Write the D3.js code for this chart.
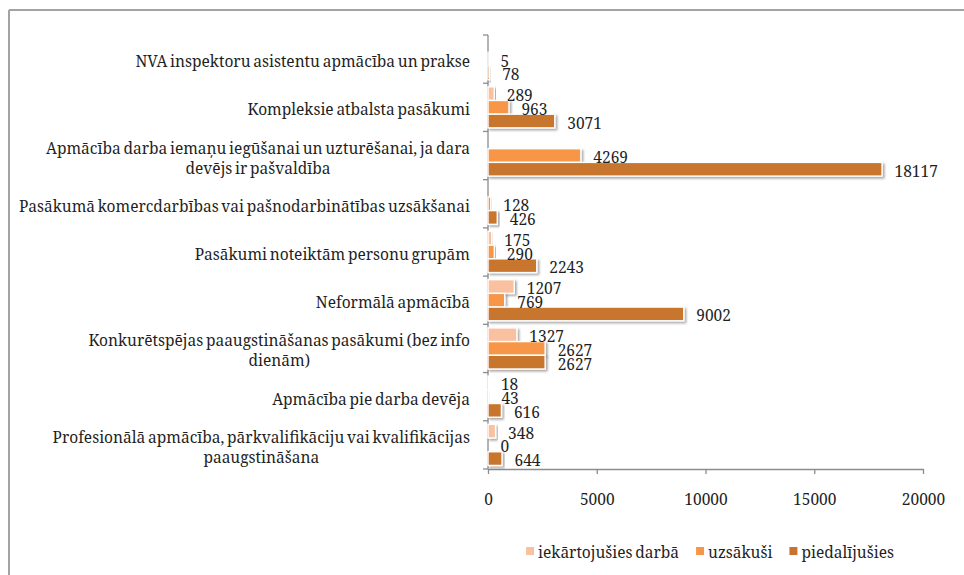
<!DOCTYPE html>
<html><head><meta charset="utf-8">
<script src="https://cdn.jsdelivr.net/npm/d3@7"></script>
<style>
html,body{margin:0;padding:0;background:#fff;}
svg{display:block;}
</style></head>
<body>
<svg id="chart" width="964" height="575"></svg>
<script>
const categories = [
  "NVA inspektoru asistentu apmācība un prakse",
  "Kompleksie atbalsta pasākumi",
  "Apmācība darba iemaņu iegūšanai un uzturēšanai, ja dara\ndevējs ir pašvaldība",
  "Pasākumā komercdarbības vai pašnodarbinātības uzsākšanai",
  "Pasākumi noteiktām personu grupām",
  "Neformālā apmācībā",
  "Konkurētspējas paaugstināšanas pasākumi (bez info\ndienām)",
  "Apmācība pie darba devēja",
  "Profesionālā apmācība, pārkvalifikāciju vai kvalifikācijas\npaaugstināšana"
];
const seriesNames = ["iekārtojušies darbā", "uzsākuši", "piedalījušies"];
const iekartojusies = [null, 289, null, null, 175, 1207, 1327, 18, 348];
const uzsakusi      = [5, 963, 4269, 128, 290, 769, 2627, 43, 0];
const piedalijusies = [78, 3071, 18117, 426, 2243, 9002, 2627, 616, 644];
const xTicks = [0, 5000, 10000, 15000, 20000];
const colors = ["#FAC1A0", "#F79646", "#C8742F"];

const FF = "'Noto Serif', serif", FS = 15.5, WS = -1.3, TC = "#1f1f1f";
const seriesValues = [iekartojusies, uzsakusi, piedalijusies];
const svg = d3.select("#chart");

// border (cropped frame)
svg.append("line").attr("x1",9).attr("y1",10).attr("x2",964).attr("y2",10)
  .attr("stroke","#a3a3a3").attr("stroke-width",2);
svg.append("line").attr("x1",9).attr("y1",10).attr("x2",9).attr("y2",575)
  .attr("stroke","#a3a3a3").attr("stroke-width",2);

const defs = svg.append("defs");
const f = defs.append("filter").attr("id","sh").attr("x","-10%").attr("y","-30%").attr("width","130%").attr("height","180%");
f.append("feDropShadow").attr("dx",1.8).attr("dy",1.8).attr("stdDeviation",1)
  .attr("flood-color","#000").attr("flood-opacity",0.35);

const x = d3.scaleLinear().domain([0, 20000]).range([488, 923]);
const y = d3.scaleBand().domain(d3.range(categories.length)).range([35, 469]).paddingInner(0).paddingOuter(0);
const inner = d3.scaleBand().domain(d3.range(3)).range([0, y.bandwidth()]).paddingOuter(0.26).paddingInner(0);

const axisColor = "#8c8c8c";
svg.append("line").attr("x1",488).attr("x2",488).attr("y1",35).attr("y2",469)
  .attr("stroke",axisColor).attr("stroke-width",1.3);
const bounds = d3.range(categories.length+1).map(i => i===categories.length ? 469 : y(i));
svg.selectAll(".ytick").data(bounds).join("line")
  .attr("x1",483).attr("x2",488).attr("y1",d=>d).attr("y2",d=>d)
  .attr("stroke",axisColor).attr("stroke-width",1.3);

// x axis
const xAxis = d3.axisBottom(x).tickValues(xTicks).tickSize(5).tickSizeOuter(0).tickFormat(d3.format("d"));
const gx = svg.append("g").attr("transform","translate(0,469)").call(xAxis);
gx.attr("font-family", FF);
gx.select(".domain").attr("stroke",axisColor).attr("stroke-width",1.3);
gx.selectAll(".tick line").attr("stroke",axisColor).attr("stroke-width",1.3);
gx.selectAll(".tick text").attr("font-family",FF).attr("font-size",FS)
  .attr("fill",TC).attr("y",30).attr("dy","0").attr("dominant-baseline","central");

// bars
seriesValues.forEach((vals, s) => {
  const g = svg.append("g");
  const data = vals.map((v,i)=>({v,i})).filter(d=>d.v!==null);
  g.selectAll("rect").data(data).join("rect")
    .attr("x", x(0))
    .attr("y", d => y(d.i) + inner(s))
    .attr("width", d => Math.max(0, x(d.v)-x(0)))
    .attr("height", inner.bandwidth())
    .attr("fill", colors[s])
    .attr("stroke","#fff").attr("stroke-width",1.4)
    .attr("filter","url(#sh)");
});
// value labels
seriesValues.forEach((vals, s) => {
  const data = vals.map((v,i)=>({v,i})).filter(d=>d.v!==null);
  svg.append("g").selectAll("text").data(data).join("text")
    .attr("x", d => x(d.v) + 12.5)
    .attr("y", d => y(d.i) + inner(s) + inner.bandwidth()/2 + 1.5)
    .attr("dominant-baseline","central")
    .attr("font-family",FF).attr("font-size",FS).attr("fill",TC)
    .text(d => d.v);
});

// category labels
const labelRight = 470;
categories.forEach((c, i) => {
  const lines = c.split("\n");
  const g = svg.append("g");
  const cy = y(i) + y.bandwidth()/2 + 2;
  const lh = 20;
  const texts = lines.map((ln, k) => g.append("text")
    .attr("y", cy + (k - (lines.length-1)/2)*lh)
    .attr("dominant-baseline","central")
    .attr("font-family",FF).attr("font-size",FS).attr("word-spacing",WS).attr("fill",TC)
    .attr("text-anchor","middle").text(ln));
  const maxW = d3.max(texts, t => t.node().getComputedTextLength());
  texts.forEach(t => t.attr("x", labelRight - maxW/2));
});

// legend
const lg = svg.append("g");
let lx = 0;
seriesNames.forEach((n, s) => {
  const it = lg.append("g").attr("transform", `translate(${lx},0)`);
  it.append("rect").attr("x",0).attr("y",-5).attr("width",8).attr("height",8).attr("fill",colors[s]);
  const t = it.append("text").attr("x",12).attr("y",0).attr("dominant-baseline","central")
    .attr("font-family",FF).attr("font-size",FS).attr("word-spacing",WS).attr("fill",TC).text(n);
  const w = 12 + t.node().getComputedTextLength();
  lx += w + 17;
});
const totalW = lx - 17;
lg.attr("transform", `translate(${710 - totalW/2},552)`);
</script>
</body></html>
